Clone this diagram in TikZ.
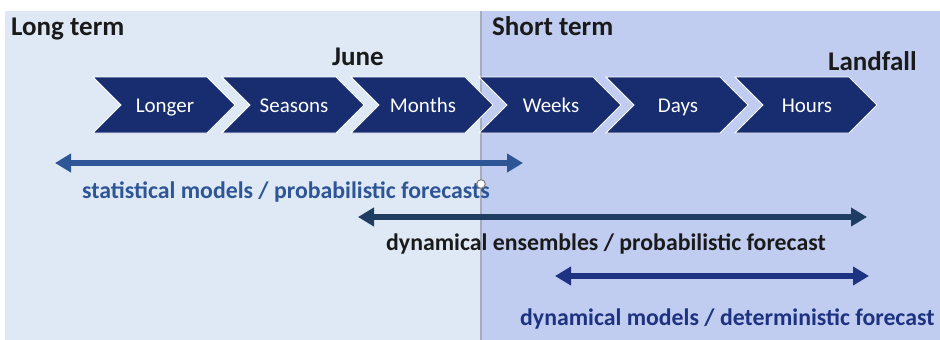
\documentclass[tikz,border=0pt]{standalone}
\usepackage{fontspec}
\setmainfont{Carlito}
\usetikzlibrary{arrows.meta}
\definecolor{leftbg}{HTML}{DEE9F5}
\definecolor{rightbg}{HTML}{C0CDF0}
\definecolor{chevcol}{HTML}{182D70}
\definecolor{statcol}{HTML}{2E5596}
\definecolor{enscol}{HTML}{1F3D60}
\definecolor{detcol}{HTML}{1E3282}
\definecolor{divcol}{HTML}{A6ADBA}
\definecolor{txtcol}{HTML}{1A1A1A}
\tikzset{
  chevshape/.style={fill=chevcol, draw=white, line width=0.8pt},
  chevtext/.style={text=white, font=\fontsize{21}{23}\selectfont, inner sep=0pt, anchor=base},
  title/.style={text=txtcol, font=\fontsize{27}{29}\selectfont\bfseries, inner sep=0pt, anchor=base west},
  lbl/.style={font=\fontsize{23.8}{26}\selectfont\bfseries, inner sep=0pt, anchor=base west},
  rangearrow/.style={line width=5.5pt, {Triangle[length=16pt,width=18pt]}-{Triangle[length=16pt,width=18pt]}}
}
\begin{document}
\begin{tikzpicture}[x=1pt,y=-1pt]
\useasboundingbox (0,0) rectangle (940,340);
\fill[white] (0,0) rectangle (940,340);
\fill[leftbg] (5,11) rectangle (481,340);
\fill[rightbg] (481,11) rectangle (940,340);
\coordinate (divtop) at (481,11);
\coordinate (divbot) at (481,340);
\draw[divcol, line width=1.2pt] (divtop) -- (divbot);

\foreach \x/\n/\t in {93/longer/Longer,222/seasons/Seasons,351/months/Months,479/weeks/Weeks,606/days/Days,735/hours/Hours}{
  \draw[chevshape] (\x,77) -- (\x+114,77) -- (\x+142,105) -- (\x+114,133) -- (\x,133) -- (\x+28,105) -- cycle;
  \node[chevtext] (\n) at (\x+72,112) {\t};
}

\node[title] (longterm) at (11,35) {Long term};
\node[title] (shortterm) at (492,35) {Short term};
\node[title] (june) at (332,65) {June};
\node[title] (landfall) at (828,70) {Landfall};

\coordinate (s1) at (55,163);
\coordinate (s2) at (523,163);
\draw[rangearrow, statcol] (s1) -- (s2);
\node[lbl, text=statcol] (statlbl) at (82,198) {statistical models / probabilistic forecasts};

\coordinate (e1) at (358,217);
\coordinate (e2) at (867,217);
\draw[rangearrow, enscol] (e1) -- (e2);
\node[lbl, text=txtcol] (enslbl) at (386,250) {dynamical ensembles / probabilistic forecast};

\coordinate (d1) at (555,276);
\coordinate (d2) at (869,276);
\draw[rangearrow, detcol] (d1) -- (d2);
\node[lbl, text=detcol] (detlbl) at (520,325) {dynamical models / deterministic forecast};

\node[circle, draw=gray, fill=white, line width=1pt, minimum size=8.5pt, inner sep=0pt] (handle) at (481,184) {};
\end{tikzpicture}
\end{document}
